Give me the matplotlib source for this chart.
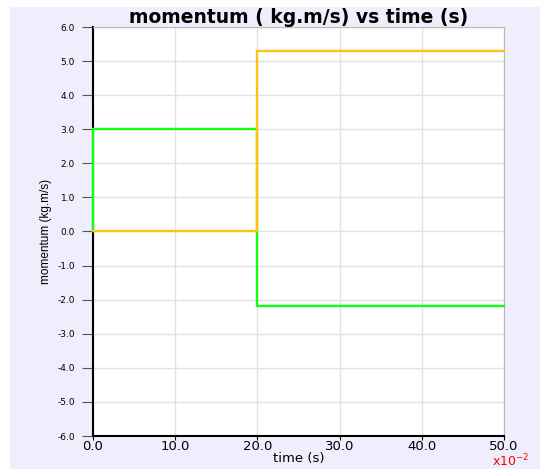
import matplotlib.pyplot as plt
from matplotlib.patches import Rectangle

# time in units of 1e-2 s
t_green = [0.0, 0.0, 20.0, 20.0, 50.0]
p_green = [0.0, 3.0, 3.0, -2.2, -2.2]
t_yellow = [0.0, 20.0, 20.0, 50.0]
p_yellow = [0.0, 0.0, 5.3, 5.3]

x_ticks = [0, 10, 20, 30, 40, 50]
y_ticks = [-6, -5, -4, -3, -2, -1, 0, 1, 2, 3, 4, 5, 6]

fig = plt.figure(figsize=(5.4, 4.69), dpi=100)
fig.patches.append(Rectangle((10 / 540, 0), 1, 1 - 7 / 469, transform=fig.transFigure,
                             facecolor="#eeeefc", edgecolor="none", zorder=-1))

ax = fig.add_axes([93 / 540, 1 - 436 / 469, (504 - 93) / 540, (436 - 27) / 469])
ax.set_facecolor("white")

ax.plot(t_green, p_green, color="#11ff11", lw=1.7, solid_joinstyle="miter",
        zorder=3, clip_on=False)
ax.plot(t_yellow, p_yellow, color="#ffc20e", lw=1.7, solid_joinstyle="miter",
        zorder=3, clip_on=False)

ax.set_xlim(0, 50)
ax.set_ylim(-6, 6)
ax.set_xticks(x_ticks)
ax.set_yticks(y_ticks)
ax.set_xticklabels([f"{v:.1f}" for v in x_ticks], fontsize=9.5)
ax.set_yticklabels([f"{v:.1f}" for v in y_ticks], fontsize=6.5)
ax.grid(True, color="#e2e2e2", lw=1)
ax.set_axisbelow(True)

for s in ["top", "right"]:
    ax.spines[s].set_color("#bbbbbb")
for s in ["left", "bottom"]:
    ax.spines[s].set_color("black")
    ax.spines[s].set_linewidth(1.5)
ax.tick_params(axis="y", length=8, color="#555555", pad=5)
ax.tick_params(axis="x", length=3, color="black", pad=0)

ax.set_title("momentum ( kg.m/s) vs time (s)", fontsize=13.5, fontweight="bold", pad=2)
ax.set_xlabel("time (s)", fontsize=9.5, labelpad=-1)
ax.set_ylabel("momentum (kg.m/s)", fontsize=8.5, family="Liberation Sans", labelpad=4)
fig.text(0.945, 0.0, r"x10$^{-2}$", color="red", fontsize=9, ha="center", va="bottom")

fig.savefig("out.png", dpi=100)
